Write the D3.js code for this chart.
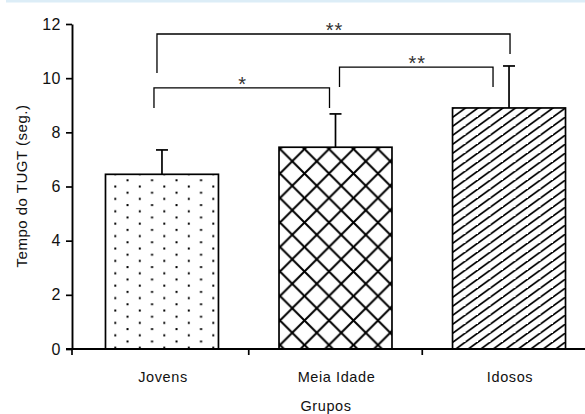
<!DOCTYPE html>
<html>
<head>
<meta charset="utf-8">
<script src="https://cdn.jsdelivr.net/npm/d3@7"></script>
<style>
  html, body { margin: 0; padding: 0; background: #fff; }
  svg { display: block; font-family: "Liberation Sans", Arial, sans-serif; }
</style>
</head>
<body>
<svg id="chart" width="585" height="414"></svg>
<script>
// Tempo do TUGT por grupo etário (média ± desvio padrão)
const groups = ["Jovens", "Meia Idade", "Idosos"];
const means = [6.45, 7.45, 8.9];
const sds = [0.9, 1.23, 1.55];
const yTicks = [0, 2, 4, 6, 8, 10, 12];
const fills = ["dots", "diamonds", "diagonal"];

// Significance comparisons: pair of groups, bracket height and leg ends (axis units)
const compFrom = ["Jovens", "Jovens", "Meia Idade"];
const compTo = ["Meia Idade", "Idosos", "Idosos"];
const compLevel = [9.64, 11.63, 10.41];
const compLegFrom = [8.9, 10.19, 9.67];
const compLegTo = [8.9, 10.89, 9.67];
const compLabel = ["*", "**", "**"];

const svg = d3.select("#chart");
const W = 585, H = 414;

// thin light-blue band along the top edge
svg.append("rect").attr("x", 6).attr("y", 0).attr("width", W - 6).attr("height", 2.5)
  .attr("fill", "#dcedf7");

const x = d3.scaleBand().domain(groups).range([72, 599])
  .paddingInner(0.349).paddingOuter(0.193);
const y = d3.scaleLinear().domain([0, 12]).range([349, 24]);

// ---- fill patterns ----
const defs = svg.append("defs");
const s = 24.5;

const pDots = defs.append("pattern").attr("id", "dots")
  .attr("patternUnits", "userSpaceOnUse")
  .attr("x", 114.3).attr("y", 178.3).attr("width", s).attr("height", 12.4);
pDots.append("rect").attr("x", 0).attr("y", 7.2).attr("width", 2).attr("height", 2).attr("fill", "#000");
pDots.append("rect").attr("x", 12.25).attr("y", 1).attr("width", 2).attr("height", 2).attr("fill", "#000");

const pDia = defs.append("pattern").attr("id", "diamonds")
  .attr("patternUnits", "userSpaceOnUse")
  .attr("x", 280 - s / 2).attr("y", 149 - s / 2).attr("width", s).attr("height", s);
pDia.append("path")
  .attr("d", [-s, 0, s].map(c => `M${c - 1},-1L${c + s + 1},${s + 1}`).join("") +
             [0, s, 2 * s].map(c => `M${c + 1},-1L${c - s - 1},${s + 1}`).join(""))
  .attr("stroke", "#000").attr("stroke-width", 2).attr("fill", "none");

// shallow "/" hatch: 12.5 px apart horizontally, 9 px vertically
const hw = 12.5, hh = 9;
const pDiag = defs.append("pattern").attr("id", "diagonal")
  .attr("patternUnits", "userSpaceOnUse")
  .attr("x", 453).attr("y", 108).attr("width", hw).attr("height", hh);
pDiag.append("path")
  .attr("d", [-1, 0, 1].map(k => `M${k * hw - hw - 1},${hh + hh / hw}L${k * hw + hw + 1},${-hh - hh / hw}`).join(""))
  .attr("stroke", "#000").attr("stroke-width", 1.8).attr("fill", "none");

// ---- bars ----
const bars = groups.map((g, i) => ({ g, m: means[i], sd: sds[i], fill: fills[i] }));

// error bars (upper half only)
svg.append("g").selectAll("g").data(bars).join("g").each(function (d) {
  const cx = x(d.g) + x.bandwidth() / 2;
  const g = d3.select(this);
  g.append("line").attr("x1", cx).attr("x2", cx).attr("y1", y(d.m)).attr("y2", y(d.m + d.sd))
    .attr("stroke", "#000").attr("stroke-width", 1.7);
  g.append("line").attr("x1", cx - 6).attr("x2", cx + 6).attr("y1", y(d.m + d.sd)).attr("y2", y(d.m + d.sd))
    .attr("stroke", "#000").attr("stroke-width", 1.7);
});

svg.append("g").selectAll("rect").data(bars).join("rect")
  .attr("x", d => x(d.g))
  .attr("y", d => y(d.m))
  .attr("width", x.bandwidth())
  .attr("height", d => y(0) - y(d.m))
  .attr("fill", d => `url(#${d.fill})`)
  .attr("stroke", "#000").attr("stroke-width", 1.7);

// ---- axes ----
const yAxis = svg.append("g").attr("transform", "translate(72,0)")
  .call(d3.axisLeft(y).tickValues(yTicks).tickSize(6).tickSizeOuter(0).tickPadding(5));
yAxis.attr("font-size", null).attr("font-family", null);
yAxis.select(".domain").attr("stroke-width", 1.9);
yAxis.selectAll(".tick line").attr("stroke-width", 1.7);
yAxis.selectAll(".tick text").style("font-size", "16px").attr("letter-spacing", "0.5px")
  .attr("fill", "#111");

// x axis line with group boundary ticks
const xAxis = svg.append("g");
xAxis.append("line").attr("x1", 66).attr("x2", W).attr("y1", y(0)).attr("y2", y(0))
  .attr("stroke", "#000").attr("stroke-width", 1.9);
const gap = x.step() - x.bandwidth();
const bounds = [72].concat(groups.slice(0, -1).map(g => x(g) + x.bandwidth() + gap / 2));
xAxis.selectAll(".bt").data(bounds).join("line").attr("class", "bt")
  .attr("x1", d => d).attr("x2", d => d).attr("y1", y(0)).attr("y2", y(0) + 6)
  .attr("stroke", "#000").attr("stroke-width", 1.7);
xAxis.selectAll("text").data(groups).join("text")
  .attr("x", d => x(d) + x.bandwidth() / 2 + 1)
  .attr("y", 382)
  .attr("text-anchor", "middle")
  .style("font-size", "14.5px").attr("letter-spacing", "0.6px")
  .attr("fill", "#111")
  .text(d => d);

svg.append("text").attr("x", 326).attr("y", 411).attr("text-anchor", "middle")
  .style("font-size", "14.5px").attr("letter-spacing", "0.6px").attr("fill", "#111").text("Grupos");

svg.append("text")
  .attr("transform", "translate(27,186) rotate(-90)")
  .attr("text-anchor", "middle")
  .style("font-size", "15px").attr("letter-spacing", "0.5px")
  .attr("fill", "#111")
  .text("Tempo do TUGT (seg.)");

// ---- significance brackets ----
// horizontal nudges keep the legs clear of the error bars
const legShiftFrom = [-8, -5, 4];
const legShiftTo = [-6, 1, -16];
const comps = compFrom.map((f, i) => ({
  x1: x(f) + x.bandwidth() / 2 + legShiftFrom[i],
  x2: x(compTo[i]) + x.bandwidth() / 2 + legShiftTo[i],
  lv: compLevel[i], a: compLegFrom[i], b: compLegTo[i], label: compLabel[i]
}));
const cg = svg.append("g");
cg.selectAll("path").data(comps).join("path")
  .attr("d", d => `M${d.x1},${y(d.a)}V${y(d.lv)}H${d.x2}V${y(d.b)}`)
  .attr("fill", "none").attr("stroke", "#000").attr("stroke-width", 1.3);
cg.selectAll("text").data(comps).join("text")
  .attr("x", d => (d.x1 + d.x2) / 2 + 1)
  .attr("y", d => y(d.lv) + 3)
  .attr("text-anchor", "middle")
  .style("font-size", "20px").attr("letter-spacing", "1px")
  .attr("fill", "#333")
  .text(d => d.label);
</script>
</body>
</html>
